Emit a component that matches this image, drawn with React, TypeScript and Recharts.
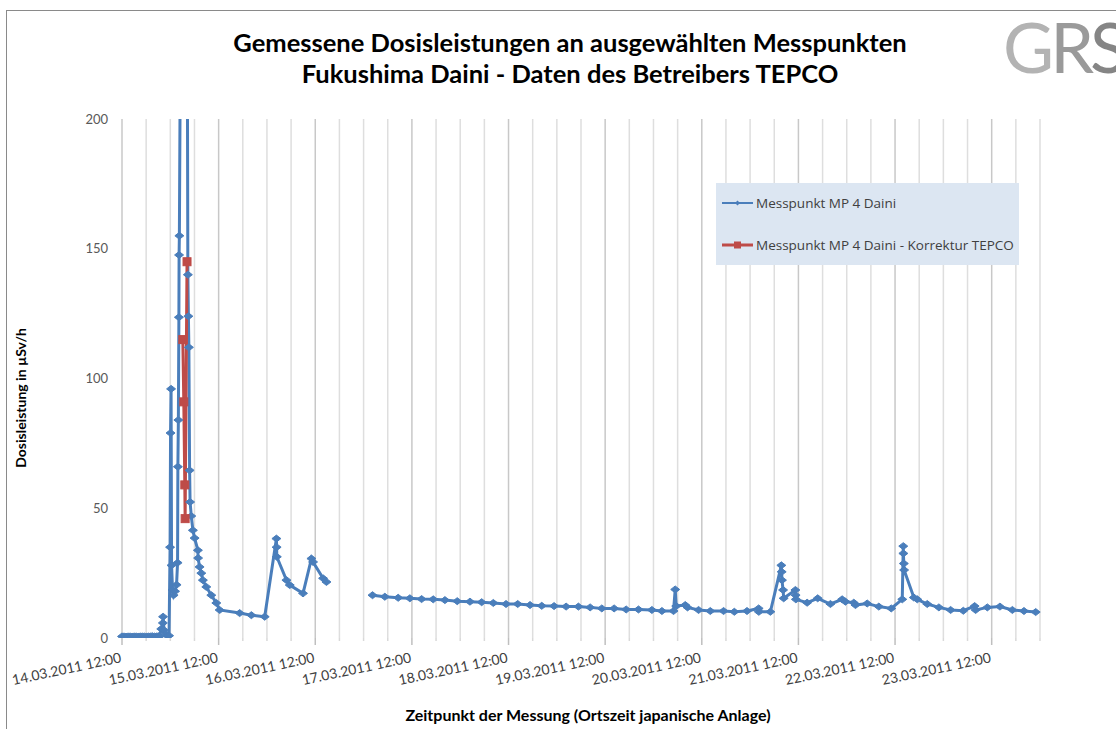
import React from "react";
import { LineChart, Line, XAxis, YAxis, CartesianGrid, Legend } from "recharts";

// hours counted from 14.03.2011 00:00 (local time at the plant)
const tickLabels = [
  "14.03.2011 12:00",
  "15.03.2011 12:00",
  "16.03.2011 12:00",
  "17.03.2011 12:00",
  "18.03.2011 12:00",
  "19.03.2011 12:00",
  "20.03.2011 12:00",
  "21.03.2011 12:00",
  "22.03.2011 12:00",
  "23.03.2011 12:00",
];

const yTicks = [0, 50, 100, 150, 200];

const mp4Hours = [
  12.0, 12.5, 13.0, 13.5, 14.0, 14.5, 15.0, 15.5, 16.0, 16.5, 17.0, 17.5, 18.0, 18.5, 19.0, 19.5, 20.0, 20.5,
  21.0, 21.3, 21.75, 22.15, 22.2, 22.45, 22.82, 23.32, 23.69, 23.94, 24.06, 24.19, 24.31, 24.56, 24.81, 25.18,
  25.55, 25.8, 25.88, 26.0, 26.13, 26.18, 26.25, 26.67, 27.05, 27.92, 28.17, 28.36, 28.49, 28.61, 28.79, 28.91,
  29.21, 29.61, 30.03, 30.85, 30.9, 31.27, 31.7, 32.09, 32.94, 34.18, 35.43, 36.25, 41.22, 44.13, 47.44, 50.35,
  50.4, 50.45, 52.84, 53.66, 56.96, 59.05, 59.45, 61.94, 62.78,
  68.0,
  74.22, 77.28, 80.59, 83.5, 86.41, 89.3, 92.2, 95.26, 98.42, 101.33, 104.22, 107.38, 110.28, 113.34, 116.25,
  119.31, 122.3, 125.36, 128.27, 131.17, 134.23, 137.22, 140.28, 143.61, 146.1, 148.98, 149.4, 149.65, 151.89,
  152.46, 155.2, 158.11, 161.41, 164.08, 167.23, 170.12, 170.17, 173.03, 175.76, 175.84, 175.91, 176.19, 176.34,
  179.25, 179.3, 179.37, 182.16, 184.79, 187.95, 190.86, 191.68, 193.75, 194.17, 197.08, 199.97, 203.05, 205.79,
  206.04, 206.07, 206.18, 206.25, 208.67, 209.52, 212.0, 214.89, 217.8, 220.95, 223.76, 224.01, 226.92, 230.05,
  233.14, 236.02, 238.93,
];

const mp4Values: (number | null)[] = [
  0.6, 0.6, 0.5, 0.6, 0.6, 0.5, 0.6, 0.6, 0.5, 0.6, 0.6, 0.6, 0.5, 0.6, 0.6, 0.7, 0.6, 0.6,
  0.7, 0.6, 3.5, 5.8, 8.2, 3.0, 1.5, 0.8, 0.9, 35, 79, 96, 28, 18.5, 16.5, 18,
  20.5, 29, 66, 84, 123.6, 147.6, 155, 280, 520, 480, 260, 140, 124, 112, 64.6, 52.4,
  47, 41.5, 38.5, 33.8, 30.8, 27.4, 25, 22.3, 19.7, 16.5, 13.5, 10.8, 9.6, 8.8, 8.2, 38.3,
  35, 31.3, 22.3, 20.4, 17.2, 30.6, 29.3, 23, 21.6,
  null,
  16.5, 15.9, 15.5, 15.3, 15, 14.9, 14.6, 14.2, 14, 13.8, 13.5, 13.1, 13.1, 12.7, 12.4,
  12.3, 12.1, 12.1, 11.8, 11.4, 11.4, 11, 11, 10.8, 10.4, 10.4, 18.7, 12.3, 12.7,
  11.8, 10.8, 10.4, 10.4, 10.1, 10.4, 11.4, 10.1, 10.1, 28, 25.5, 22.3, 18.5, 15.3,
  18.5, 16.5, 14.9, 13.6, 15.3, 13.1, 14.9, 14, 13.6, 12.7, 13.3, 12.1, 11.4, 14.9,
  35.4, 32.6, 28.7, 26.2, 15.6, 14.9, 13.1, 11.8, 10.8, 10.5, 12.3, 10.8, 11.8, 12.1,
  10.8, 10.4, 10,
];

const correctionHours = [27.1, 27.35, 27.6, 27.68, 28.15];
const correctionValues = [115, 91, 59, 46, 145];

const mp4Data = mp4Hours.map((h, i) => ({ h, v: mp4Values[i] }));
const correctionData = correctionHours.map((h, i) => ({ h, v: correctionValues[i] }));

const gridHours: number[] = [];
for (let h = 12; h <= 240; h += 6) gridHours.push(h);

const BLUE = "#4a7ebb";
const RED = "#be4b48";

function Diamond({ cx, cy }: any) {
  if (cx == null || cy == null) return null;
  return <path d={`M${cx},${cy - 3.5}L${cx + 4.5},${cy}L${cx},${cy + 3.5}L${cx - 4.5},${cy}Z`} fill={BLUE} stroke={BLUE} />;
}

function Square({ cx, cy }: any) {
  if (cx == null || cy == null) return null;
  return <rect x={cx - 4} y={cy - 4} width={8} height={8} fill={RED} stroke={RED} />;
}

function TimeTick({ x, y, payload }: any) {
  const h = payload.value;
  const major = (h - 12) % 24 === 0 && h < 240;
  const label = tickLabels[(h - 12) / 24];
  return (
    <g>
      <line x1={x} x2={x} y1={y} y2={y + (major ? 7 : 3)} stroke={major ? "#bfbfbf" : "#d9d9d9"} strokeWidth={1.5} />
      {major && (
        <text x={x} y={y + 24} textAnchor="end" transform={`rotate(-12 ${x} ${y + 24})`} fontSize={14} fill="#404040">
          {label}
        </text>
      )}
    </g>
  );
}

function GridLine(p: any) {
  const major = p.index % 4 === 0;
  return <line key={`g${p.index}`} x1={p.x1} x2={p.x2} y1={p.y1} y2={p.y2} stroke={major ? "#c8c8c8" : "#dedede"} strokeWidth={1.5} />;
}

function LegendBox() {
  return (
    <div style={{ width: 303, height: 82, background: "#dce6f2", fontSize: 13.5, color: "#404040", position: "relative", fontFamily: "'Open Sans', sans-serif" }}>
      <svg width={40} height={82} style={{ position: "absolute", left: 0, top: 0 }}>
        <line x1={6} x2={37} y1={20} y2={20} stroke={BLUE} strokeWidth={2} />
        <path d="M21.5,17.5L24,20L21.5,22.5L19,20Z" fill={BLUE} />
        <line x1={6} x2={37} y1={62} y2={62} stroke={RED} strokeWidth={3} />
        <rect x={18} y={58.5} width={7} height={7} fill={RED} />
      </svg>
      <div style={{ position: "absolute", left: 40, top: 10, whiteSpace: "nowrap", lineHeight: "20px" }}>Messpunkt MP 4 Daini</div>
      <div style={{ position: "absolute", left: 40, top: 52, whiteSpace: "nowrap", lineHeight: "20px" }}>Messpunkt MP 4 Daini - Korrektur TEPCO</div>
    </div>
  );
}

export default function App() {
  return (
    <div style={{ position: "absolute", left: 0, top: 0, width: 1116, height: 729, overflow: "hidden", background: "#fff", fontFamily: "Lato, 'Open Sans', sans-serif" }}>
      <div style={{ position: "absolute", left: 6, top: 10, width: 1300, height: 900, borderLeft: "1px solid #8a8a8a", borderTop: "1px solid #8a8a8a" }} />
      <div style={{ position: "absolute", left: 0, width: 1140, top: 27, textAlign: "center", fontWeight: 700, fontSize: 25.5, lineHeight: "31px", color: "#000" }}>
        Gemessene Dosisleistungen an ausgewählten Messpunkten
        <br />
        Fukushima Daini - Daten des Betreibers TEPCO
      </div>
      <div style={{ position: "absolute", left: 1003, top: 6, fontSize: 70, letterSpacing: -4, fontWeight: 400, lineHeight: "80px" }}>
        <span style={{ color: "#b3b3b3" }}>G</span>
        <span style={{ color: "#9a9a9a" }}>R</span>
        <span style={{ color: "#858585" }}>S</span>
      </div>
      <div style={{ position: "absolute", left: 20, top: 398, transform: "translate(-50%, -50%) rotate(-90deg)", whiteSpace: "nowrap", fontWeight: 700, fontSize: 14 }}>
        Dosisleistung in µSv/h
      </div>
      <div style={{ position: "absolute", left: 588, top: 714, transform: "translate(-50%, -50%)", whiteSpace: "nowrap", fontWeight: 700, fontSize: 16 }}>
        Zeitpunkt der Messung (Ortszeit japanische Anlage)
      </div>
      <LineChart width={1116} height={729} margin={{ top: 119, right: 76, bottom: 0, left: 0 }}>
        <CartesianGrid horizontal={false} vertical={GridLine} />
        <XAxis
          type="number"
          dataKey="h"
          domain={[12, 240]}
          ticks={gridHours}
          interval={0}
          height={91}
          axisLine={false}
          tickLine={false}
          tickSize={0}
          tickMargin={0}
          tick={<TimeTick />}
        />
        <YAxis
          type="number"
          domain={[0, 200]}
          ticks={yTicks}
          allowDataOverflow
          width={122}
          axisLine={false}
          tickLine={false}
          tickSize={0}
          tickMargin={14}
          tick={{ fontSize: 13, fill: "#595959" }}
        />
        <Legend layout="horizontal" verticalAlign="middle" wrapperStyle={{ position: "absolute", left: 716, top: 183, width: 303 }} content={<LegendBox />} />
        <Line data={mp4Data} dataKey="v" name="Messpunkt MP 4 Daini" stroke={BLUE} strokeWidth={3} dot={<Diamond />} activeDot={false} connectNulls={false} isAnimationActive={false} />
        <Line data={correctionData} dataKey="v" name="Messpunkt MP 4 Daini - Korrektur TEPCO" stroke={RED} strokeWidth={3} dot={<Square />} activeDot={false} isAnimationActive={false} />
      </LineChart>
    </div>
  );
}
